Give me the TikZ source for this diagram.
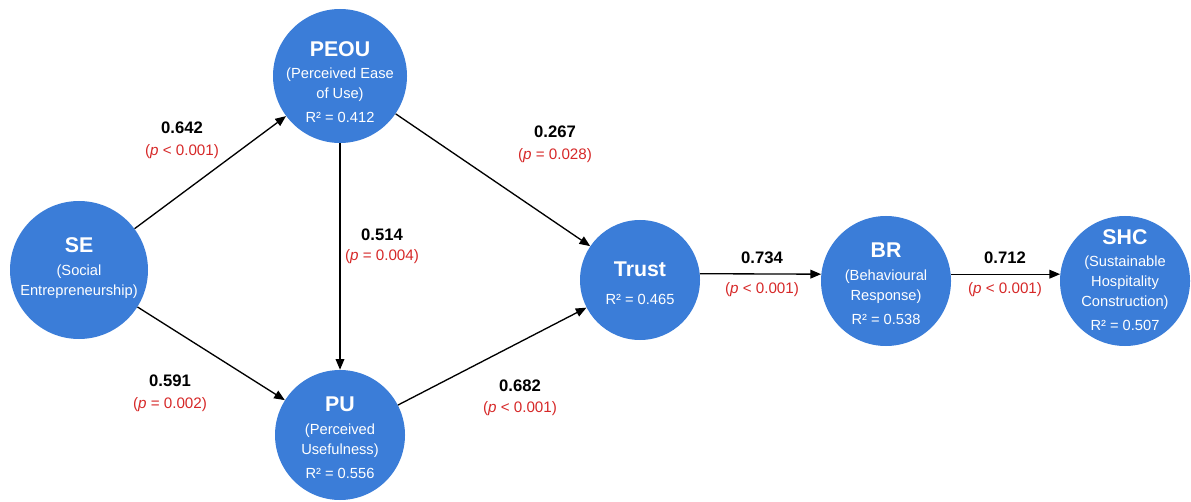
\documentclass[tikz,border=0pt]{standalone}
\usepackage{fontspec}
\setmainfont{Liberation Sans}
\usetikzlibrary{arrows.meta}
\definecolor{factorblue}{RGB}{59,125,216}
\definecolor{pred}{RGB}{214,40,40}
\tikzset{
  factor/.style={circle,fill=factorblue,minimum size={#1*0.75pt},inner sep=0pt},
  factor/.default=130,
  factortext/.style={text=white,align=center,font=\fontsize{11}{15}\selectfont},
  weight/.style={font=\bfseries\fontsize{12.5}{14}\selectfont},
  pval/.style={text=pred,font=\fontsize{11.4}{13}\selectfont},
  path/.style={-{Triangle[length=8pt,width=6.5pt]},line width=1pt,black},
}
\newcommand{\ftitle}[1]{{\bfseries\fontsize{16}{19}\selectfont #1}}
\begin{document}
\begin{tikzpicture}[x=0.75pt,y=-0.75pt]
    \useasboundingbox (0,0) rectangle (1191,502);
    % constructs
    \node[factor=138] (se) at (79,270) {};
    \node[factor=134] (peou) at (340,76) {};
    \node[factor=130] (pu) at (340,435) {};
    \node[factor=120] (trust) at (640,280) {};
    \node[factor=130] (br) at (886,281) {};
    \node[factor=130] (shc) at (1125,281) {};
    \node[factortext] (se_t) at (79,268) {\ftitle{SE}\\[2pt](Social\\Entrepreneurship)};
    \node[factortext] (peou_t) at (340,82) {\ftitle{PEOU}\\[2pt](Perceived Ease\\of Use)\\[3pt]R² = 0.412};
    \node[factortext] (pu_t) at (340,438) {\ftitle{PU}\\[2pt](Perceived\\Usefulness)\\[3pt]R² = 0.556};
    \node[factortext] (trust_t) at (640,283) {\ftitle{Trust}\\[6pt]R² = 0.465};
    \node[factortext] (br_t) at (886,284) {\ftitle{BR}\\[2pt](Behavioural\\Response)\\[3pt]R² = 0.538};
    \node[factortext] (shc_t) at (1125,280) {\ftitle{SHC}\\[2pt](Sustainable\\Hospitality\\Construction)\\[3pt]R² = 0.507};
    % path coefficients
    \node[weight] (w_se_peou) at (182,128) {0.642};
    \node[pval] (p_se_peou) at (182,152) {(\textit{p} < 0.001)};
    \node[weight] (w_se_pu) at (170,381) {0.591};
    \node[pval] (p_se_pu) at (170,405) {(\textit{p} = 0.002)};
    \node[weight] (w_peou_pu) at (382,235) {0.514};
    \node[pval] (p_peou_pu) at (382,257) {(\textit{p} = 0.004)};
    \node[weight] (w_peou_trust) at (555,132) {0.267};
    \node[pval] (p_peou_trust) at (555,156) {(\textit{p} = 0.028)};
    \node[weight] (w_pu_trust) at (520,386) {0.682};
    \node[pval] (p_pu_trust) at (520,409) {(\textit{p} < 0.001)};
    \node[weight] (w_trust_br) at (762,258) {0.734};
    \node[pval] (p_trust_br) at (762,290) {(\textit{p} < 0.001)};
    \node[weight] (w_br_shc) at (1005,258) {0.712};
    \node[pval] (p_br_shc) at (1005,290) {(\textit{p} < 0.001)};
    % paths
    \draw[path] (se) -- (peou);
    \draw[path] (se) -- (pu);
    \draw[path] (peou) -- (pu);
    \draw[path] (peou) -- (trust);
    \draw[path] (pu) -- (trust);
    \draw[path] (trust.6) -- (br.174);
    \draw[path] (br.6) -- (shc.174);
\end{tikzpicture}
\end{document}
